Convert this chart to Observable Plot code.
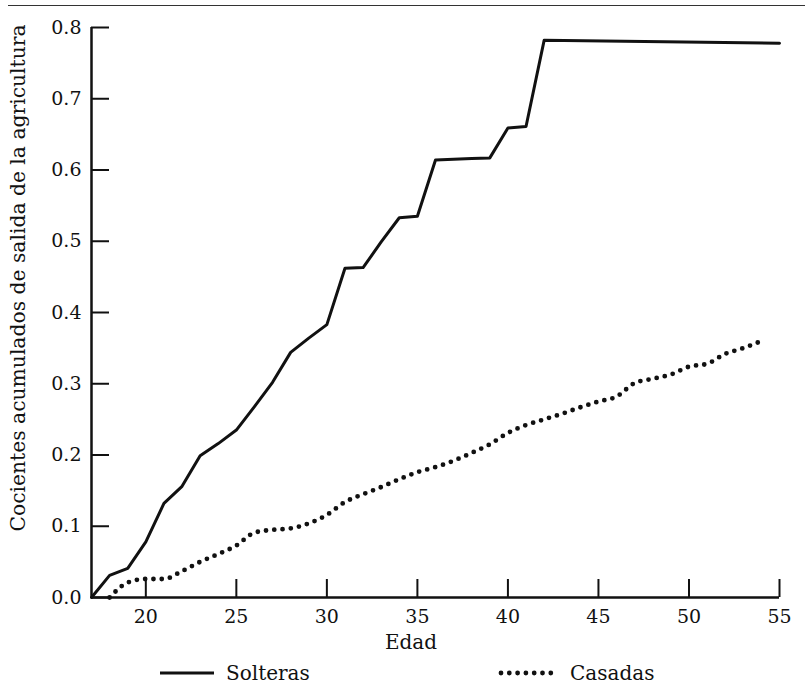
<!DOCTYPE html>
<html>
<head>
<meta charset="utf-8">
<script src="https://cdn.jsdelivr.net/npm/d3@7"></script>
<script src="https://cdn.jsdelivr.net/npm/@observablehq/plot@0.6"></script>
<style>
  html, body { margin: 0; padding: 0; background: #fff; }
  #wrap { position: relative; width: 805px; height: 687px; font-family: "DejaVu Serif", serif; color: #111; }
  #rule { position: absolute; left: 8px; top: 5px; width: 797px; height: 0; border-top: 1.5px solid #333; }
  #chart { position: absolute; left: 0; top: 0; }
  .lbl { position: absolute; white-space: nowrap; font-size: 20px; }
  #ylab { left: 18px; top: 278px; font-size: 20.3px; transform: translate(-50%, -50%) rotate(-90deg); }
  #xlab { left: 411px; top: 642px; transform: translate(-50%, -50%); }
  .leg { position: absolute; top: 673px; transform: translateY(-50%); display: flex; align-items: center; font-size: 20px; white-space: nowrap; }
  .leg svg { margin-right: 12px; }
</style>
</head>
<body>
<div id="wrap">
  <div id="chart"></div>
  <div id="rule"></div>
  <div class="lbl" id="ylab">Cocientes acumulados de salida de la agricultura</div>
  <div class="lbl" id="xlab">Edad</div>
  <div class="leg" style="left:160px"><svg width="54" height="8"><line x1="0" x2="54" y1="4" y2="4" stroke="#111" stroke-width="3"/></svg>Solteras</div>
  <div class="leg" style="left:498px"><svg width="60" height="8"><line x1="3" x2="57" y1="4" y2="4" stroke="#111" stroke-width="4.8" stroke-linecap="round" stroke-dasharray="0 8.3"/></svg>Casadas</div>
</div>
<script>
// Data
const edadSolteras = [17, 18, 19, 20, 21, 22, 23, 24, 25, 26, 27, 28, 29, 30, 31, 32, 33, 34, 35, 36, 37, 38, 39, 40, 41, 42, 55];
const valSolteras  = [0, 0.031, 0.041, 0.078, 0.132, 0.156, 0.199, 0.216, 0.235, 0.268, 0.302, 0.344, 0.364, 0.383, 0.462, 0.463, 0.499, 0.533, 0.535, 0.614, 0.615, 0.616, 0.617, 0.659, 0.661, 0.782, 0.778];

const edadCasadas = [18, 19, 20, 21, 22, 23, 24, 25, 26, 27, 28, 29, 30, 31, 32, 33, 34, 35, 36, 37, 38, 39, 40, 41, 42, 43, 44, 45, 46, 47, 48, 49, 50, 51, 52, 53, 54];
const valCasadas  = [0, 0.021, 0.026, 0.026, 0.037, 0.05, 0.061, 0.073, 0.091, 0.095, 0.097, 0.104, 0.116, 0.134, 0.145, 0.155, 0.166, 0.176, 0.183, 0.192, 0.203, 0.215, 0.231, 0.242, 0.25, 0.258, 0.267, 0.275, 0.282, 0.301, 0.307, 0.313, 0.324, 0.328, 0.342, 0.35, 0.36];

const xTicks = [20, 25, 30, 35, 40, 45, 50, 55];
const yTicks = [0, 0.1, 0.2, 0.3, 0.4, 0.5, 0.6, 0.7, 0.8];

const solteras = edadSolteras.map((e, i) => ({edad: e, v: valSolteras[i]}));
const casadas = edadCasadas.map((e, i) => ({edad: e, v: valCasadas[i]}));

const W = 805, H = 650, mT = 27, mL = 91, mR = 26, mB = 53, tick = 18;

const chart = Plot.plot({
  width: W,
  height: H,
  marginTop: mT,
  marginLeft: mL,
  marginRight: mR,
  marginBottom: mB,
  style: {fontFamily: "DejaVu Serif, serif", fontSize: "19px", color: "#111", background: "transparent"},
  x: {domain: [17, 55], label: null},
  y: {domain: [0, 0.8], label: null},
  marks: [
    // inward tick marks
    Plot.tickX(xTicks, {x: d => d, stroke: "#111", strokeWidth: 2, insetTop: (H - mT - mB) - tick}),
    Plot.tickY(yTicks, {y: d => d, stroke: "#111", strokeWidth: 2, insetRight: (W - mL - mR) - tick}),
    Plot.axisX(xTicks, {tickSize: 0, tickPadding: 12, fontSize: 19, fill: "#111"}),
    Plot.axisY(yTicks, {tickSize: 0, tickPadding: 10, fontSize: 19, fill: "#111", tickFormat: d3.format(".1f")}),
    Plot.ruleX([17], {stroke: "#111", strokeWidth: 2.5}),
    Plot.ruleY([0], {stroke: "#111", strokeWidth: 2.5}),
    Plot.line(solteras, {x: "edad", y: "v", stroke: "#111", strokeWidth: 3, strokeLinejoin: "round"}),
    Plot.line(casadas, {x: "edad", y: "v", stroke: "#111", strokeWidth: 4.8, strokeLinecap: "round", strokeDasharray: "0 8.3", curve: "monotone-x"})
  ]
});
document.getElementById("chart").appendChild(chart);
</script>
</body>
</html>
